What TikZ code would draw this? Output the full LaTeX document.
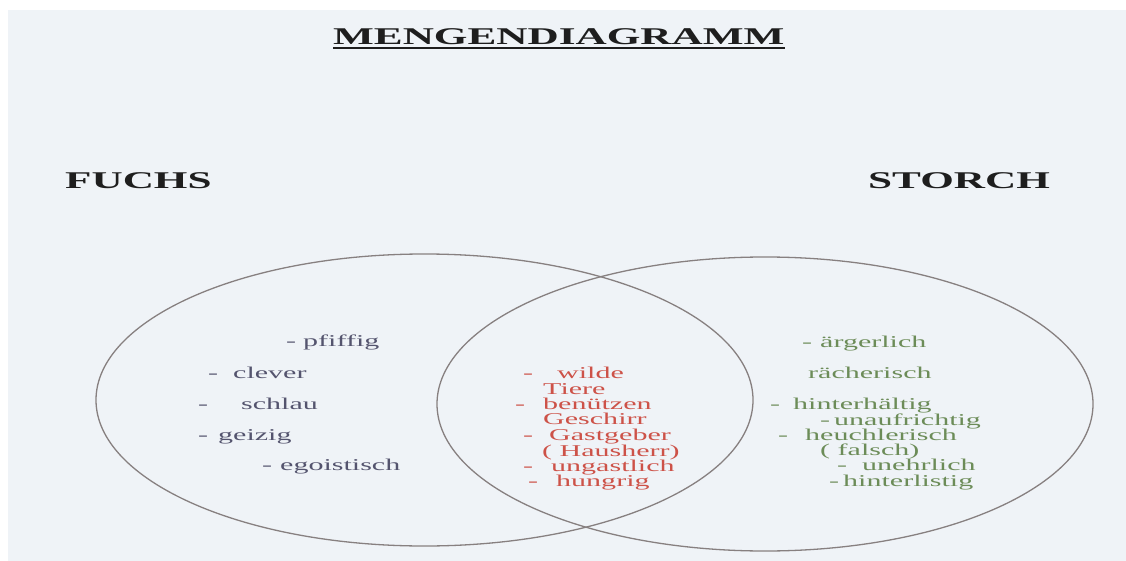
\documentclass[tikz,border=0pt]{standalone}
\usepackage{fontspec}
\setmainfont{Liberation Serif}[FakeStretch=1.82]
\newfontfamily\headfont{Liberation Serif}[FakeStretch=1.8]
\usetikzlibrary{shapes.geometric}
\definecolor{pagebg}{RGB}{239,243,247}
\definecolor{leftcol}{RGB}{84,84,110}
\definecolor{redcol}{RGB}{205,82,72}
\definecolor{greencol}{RGB}{108,140,88}
\definecolor{setline}{RGB}{135,128,128}
\definecolor{headcol}{RGB}{30,30,30}
\newcommand\dsh[2]{\makebox[#1pt][l]{-}#2}
\begin{document}
\begin{tikzpicture}[x=1pt,y=-1pt,
  lbl/.style={anchor=west, inner sep=0pt, font=\fontsize{16.5}{19}\selectfont, execute at begin node=\strut},
  fx/.style={lbl, text=leftcol},
  both/.style={lbl, text=redcol},
  st/.style={lbl, text=greencol},
  head/.style={anchor=base west, inner sep=0pt, text=headcol, font=\headfont\bfseries\fontsize{24}{28}\selectfont},
  setshape/.style={draw=setline, line width=1.3pt, ellipse, inner sep=0pt}]
\useasboundingbox (0,0) rectangle (1126,561);
\fill[white] (0,0) rectangle (1126,561);
\fill[pagebg] (8,10) rectangle (1126,561);
% sets
\node[setshape, minimum width=657pt, minimum height=292pt] (fuchsset) at (424.5,400) {};
\node[setshape, minimum width=656pt, minimum height=294pt] (storchset) at (765,404) {};
% headings
\node[head] (title) at (333,45) {MENGENDIAGRAMM};
\draw[headcol, line width=2.2pt] ([yshift=-3pt]title.base west) -- ([yshift=-3pt]title.base east);
\node[head] (fuchs) at (65,188.5) {FUCHS};
\node[head] (storch) at (868,188.5) {STORCH};
% Fuchs only
\node[fx] (f1) at (286,343) {\dsh{17}{pfiffig}};
\node[fx] (f2) at (208,375) {\dsh{25}{clever}};
\node[fx] (f3) at (198,406) {\dsh{43}{schlau}};
\node[fx] (f4) at (198,437) {\dsh{20}{geizig}};
\node[fx] (f5) at (262,467) {\dsh{18}{egoistisch}};
% both
\node[both] (b1) at (523,375) {\dsh{34}{wilde}};
\node[both] (b2) at (543,391) {Tiere};
\node[both] (b3) at (515,406) {\dsh{28}{benützen}};
\node[both] (b4) at (543,421) {Geschirr};
\node[both] (b5) at (523,437) {\dsh{26}{Gastgeber}};
\node[both] (b6) at (542,453) {( Hausherr)};
\node[both] (b7) at (523,468) {\dsh{28}{ungastlich}};
\node[both] (b8) at (528,483) {\dsh{28}{hungrig}};
% Storch only
\node[st] (s1) at (802,344) {\dsh{18}{ärgerlich}};
\node[st] (s2) at (808,375) {rächerisch};
\node[st] (s3) at (770,406) {\dsh{23}{hinterhältig}};
\node[st] (s4) at (820,422) {\dsh{14}{unaufrichtig}};
\node[st] (s5) at (778,437) {\dsh{27}{heuchlerisch}};
\node[st] (s6) at (820,452) {( falsch)};
\node[st] (s7) at (837,467) {\dsh{25}{unehrlich}};
\node[st] (s8) at (829,483) {\dsh{14}{hinterlistig}};
\end{tikzpicture}
\end{document}
